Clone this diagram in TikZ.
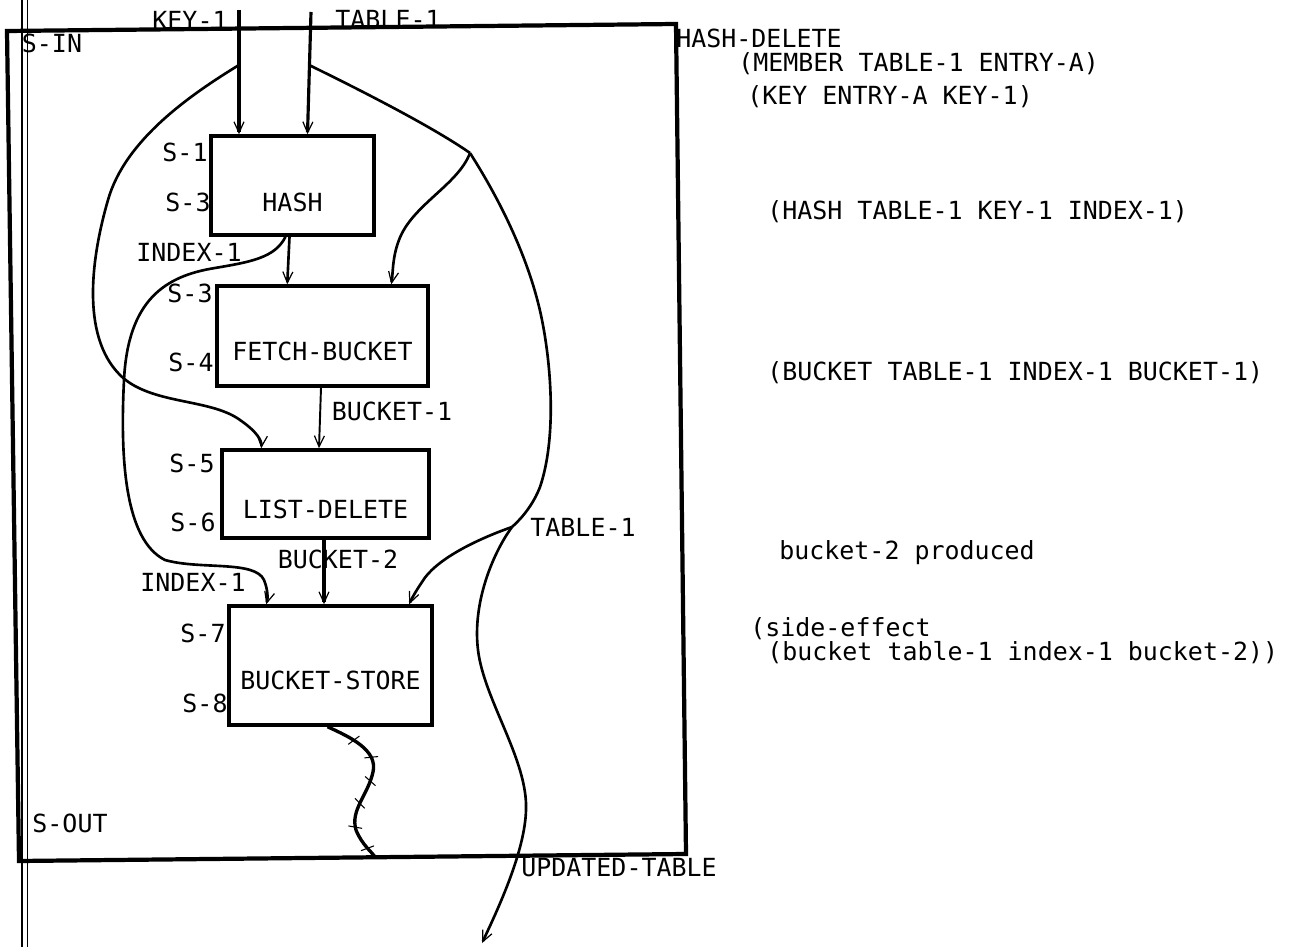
\documentclass[tikz,border=0pt]{standalone}
\usepackage{fontspec}
\setmonofont{DejaVu Sans Mono}
\usetikzlibrary{arrows.meta,calc,decorations.markings}

\tikzset{
  box/.style={draw, line width=2pt, inner sep=0pt},
  lbl/.style={font=\ttfamily\fontsize{14.2}{16}\selectfont, inner sep=0pt},
  flow/.style={line width=1.5pt},
  ticked/.style={postaction={decorate, decoration={markings,
      mark=between positions 0.18 and 0.95 step 0.15 with {\draw[line width=0.6pt] (-0.5mm,-1.3mm) -- (0.5mm,1.3mm);}}}}
}

\begin{document}
\begin{tikzpicture}[x=0.2mm, y=-0.2mm, >={Straight Barb[length=2.2mm,width=2mm,line width=0.7pt]}]
    \useasboundingbox (0,0) rectangle (1316,947);

    % margin lines of the sheet
    \draw[line width=0.8pt] (22,0) -- (22,947);
    \draw[line width=0.5pt] (27,0) -- (27,947);

    % module boundary
    \coordinate (ftl) at (7,31);
    \coordinate (ftr) at (676,24);
    \coordinate (fbr) at (686,854);
    \coordinate (fbl) at (19,861);
    \draw[line width=2.4pt] (ftl) -- (ftr) -- (fbr) -- (fbl) -- cycle;

    % steps
    \node[box, minimum width=32.6mm, minimum height=19.8mm, label={[lbl, yshift=-3.3mm]center:HASH}] (hash) at (292.5,185.5) {};
    \node[box, minimum width=42.2mm, minimum height=20mm, label={[lbl, yshift=-3mm]center:FETCH-BUCKET}] (fetch) at (322.5,336) {};
    \node[box, minimum width=41.4mm, minimum height=17.6mm, label={[lbl, yshift=-3mm]center:LIST-DELETE}] (listdel) at (325.5,494) {};
    \node[box, minimum width=40.6mm, minimum height=23.8mm, label={[lbl, yshift=-2.9mm]center:BUCKET-STORE}] (store) at (330.5,665.5) {};

    % inputs
    \coordinate (keyin) at (239,10);
    \coordinate (tablein) at (311,12);
    \draw[flow, line width=1.8pt, ->] (keyin) -- (keyin |- hash.north);
    \draw[flow, line width=1.8pt, ->] (tablein) -- ($(hash.north)+(15,0)$);

    % KEY-1 to LIST-DELETE
    \coordinate (keysplit) at (239,65);
    \draw[flow, ->] (keysplit) .. controls (190,95) and (125,140) .. (108,200)
        .. controls (92,255) and (80,335) .. (120,375)
        .. controls (150,405) and (210,398) .. (240,420)
        .. controls (256,431) and (262,440) .. ($(listdel.north west)+(41,0)$);

    % INDEX-1
    \draw[flow, ->] ($(hash.south)+(-3,0)$) -- ($(fetch.north west)+(72,0)$);
    \draw[flow, ->] ($(hash.south)+(-7,0)$) .. controls (275,258) and (250,262) .. (215,268)
        .. controls (165,276) and (128,300) .. (124,380)
        .. controls (120,460) and (125,540) .. (165,560)
        .. controls (200,570) and (255,560) .. (264,580)
        .. controls (268,590) and (268,598) .. ($(store.north west)+(39,0)$);

    % TABLE-1
    \coordinate (tablesplit) at (309,65);
    \coordinate (tbranch) at (470,153);
    \coordinate (tsplit) at (512,527);
    \coordinate (tableout) at (482,943);
    \draw[flow] (tablesplit) .. controls (350,85) and (430,125) .. (tbranch);
    \draw[flow, ->] (tbranch) .. controls (458,185) and (412,205) .. (399,240)
        .. controls (392,258) and (393,275) .. ($(fetch.north west)+(176,0)$);
    \draw[flow] (tbranch) .. controls (500,200) and (530,260) .. (542,320)
        .. controls (552,370) and (556,440) .. (540,487)
        .. controls (533,505) and (522,518) .. (tsplit);
    \draw[flow, ->] (tsplit) .. controls (475,540) and (435,560) .. (422,582)
        .. controls (414,594) and (411,600) .. ($(store.north west)+(182,0)$);
    \draw[flow, ->] (tsplit) .. controls (495,550) and (472,600) .. (478,650)
        .. controls (484,700) and (528,760) .. (526,810)
        .. controls (525,850) and (500,905) .. (tableout);

    % buckets
    \draw[flow, line width=1.1pt, ->] ($(fetch.south)+(-1.5,0)$) -- ($(listdel.north)+(-6.5,0)$);
    \draw[flow, line width=2pt, ->] ($(listdel.south)+(-1.5,0)$) -- ($(store.north)+(-6.5,0)$);

    % side effect out
    \coordinate (sout) at (375,857);
    \draw[flow, line width=1.9pt, ticked] ($(store.south)+(-3,0)$) .. controls (350,737) and (378,750) .. (373,772)
        .. controls (368,795) and (350,810) .. (356,830)
        .. controls (362,845) and (372,852) .. (sout);

    % labels inside the boundary
    \node[lbl] (lkey) at (190,20) {KEY-1};
    \node[lbl] (ltable) at (388,19) {TABLE-1};
    \node[lbl] (lsin) at (52,43) {S-IN};
    \node[lbl] (ls1) at (185,152) {S-1};
    \node[lbl] (ls2) at (188,202) {S-3};
    \node[lbl] (lindexa) at (189,252) {INDEX-1};
    \node[lbl] (ls3) at (190,293) {S-3};
    \node[lbl] (ls4) at (191,362) {S-4};
    \node[lbl] (lbucketa) at (392,411) {BUCKET-1};
    \node[lbl] (ls5) at (192,463) {S-5};
    \node[lbl] (ls6) at (193,522) {S-6};
    \node[lbl] (ltableb) at (583,527) {TABLE-1};
    \node[lbl] (lbucketb) at (338,559) {BUCKET-2};
    \node[lbl] (lindexb) at (193,582) {INDEX-1};
    \node[lbl] (ls7) at (203,633) {S-7};
    \node[lbl] (ls8) at (205,703) {S-8};
    \node[lbl] (lsout) at (70,823) {S-OUT};
    \node[lbl, anchor=west] (lupd) at (521,868) {UPDATED-TABLE};

    % annotations
    \node[lbl, anchor=west] (title) at (676,38) {HASH-DELETE};
    \node[lbl, anchor=west] (ann1) at (738,64) {(MEMBER TABLE-1 ENTRY-A)};
    \node[lbl, anchor=west] (ann2) at (747,97) {(KEY ENTRY-A KEY-1)};
    \node[lbl, anchor=west] (ann3) at (767,212) {(HASH TABLE-1 KEY-1 INDEX-1)};
    \node[lbl, anchor=west] (ann4) at (767,373) {(BUCKET TABLE-1 INDEX-1 BUCKET-1)};
    \node[lbl, anchor=west] (ann5) at (779,553) {bucket-2 produced};
    \node[lbl, anchor=west, align=left, font=\ttfamily\fontsize{14.2}{9}\selectfont] (ann6) at (750,641)
        {(side-effect\\\hspace*{3.4mm}(bucket table-1 index-1 bucket-2))};
\end{tikzpicture}
\end{document}
